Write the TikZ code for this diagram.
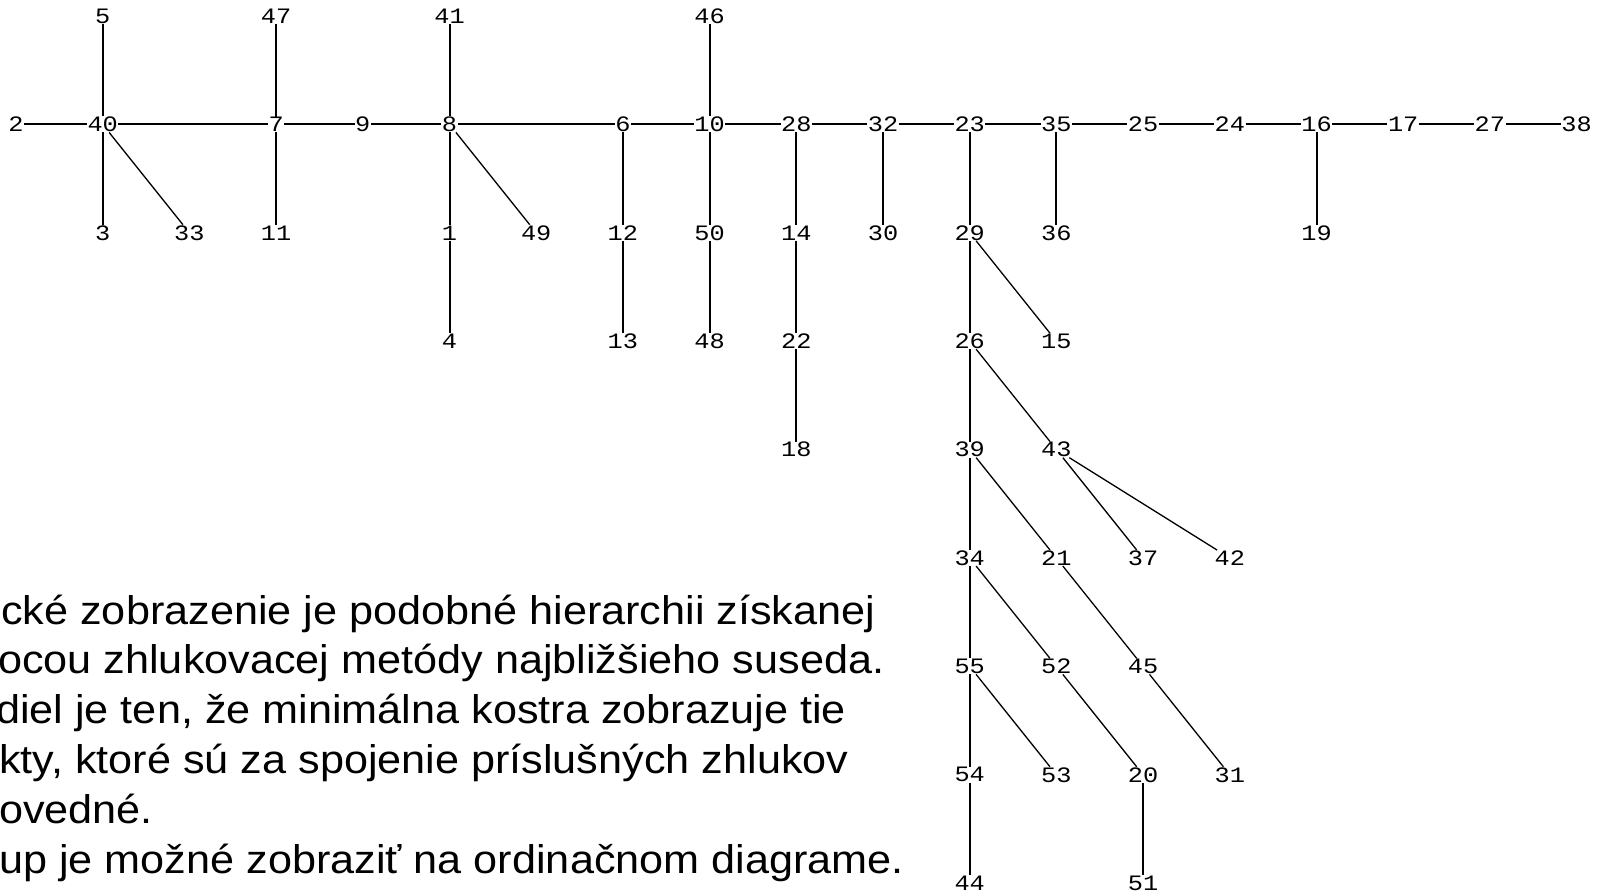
\documentclass[tikz,border=0pt]{standalone}
\usepackage{fontspec}
\setmainfont{Liberation Sans}[FakeStretch=1.08]
\newfontfamily\labelfont[FakeStretch=1.15]{Liberation Mono}

\begin{document}
\begin{tikzpicture}[x=86.7pt, y=-108.4pt,
    lbl/.style={font=\labelfont\fontsize{22}{22}\selectfont, inner sep=0.4pt},
    edge/.style={line width=2pt},
    diag/.style={line width=1.3pt},
    note/.style={font=\fontsize{40}{50}\selectfont, inner sep=0pt, anchor=base west}]
            \useasboundingbox (-0.18454,-0.1476) rectangle (18.2584,8.0904);
            % top row
            \node[lbl] (n5) at (1,0) {5};
            \node[lbl] (n47) at (3,0) {47};
            \node[lbl] (n41) at (5,0) {41};
            \node[lbl] (n46) at (8,0) {46};
            % main row
            \node[lbl] (n2) at (0,1) {2};
            \node[lbl] (n40) at (1,1) {40};
            \node[lbl] (n7) at (3,1) {7};
            \node[lbl] (n9) at (4,1) {9};
            \node[lbl] (n8) at (5,1) {8};
            \node[lbl] (n6) at (7,1) {6};
            \node[lbl] (n10) at (8,1) {10};
            \node[lbl] (n28) at (9,1) {28};
            \node[lbl] (n32) at (10,1) {32};
            \node[lbl] (n23) at (11,1) {23};
            \node[lbl] (n35) at (12,1) {35};
            \node[lbl] (n25) at (13,1) {25};
            \node[lbl] (n24) at (14,1) {24};
            \node[lbl] (n16) at (15,1) {16};
            \node[lbl] (n17) at (16,1) {17};
            \node[lbl] (n27) at (17,1) {27};
            \node[lbl] (n38) at (18,1) {38};
            % second row
            \node[lbl] (n3) at (1,2) {3};
            \node[lbl] (n33) at (2,2) {33};
            \node[lbl] (n11) at (3,2) {11};
            \node[lbl] (n1) at (5,2) {1};
            \node[lbl] (n49) at (6,2) {49};
            \node[lbl] (n12) at (7,2) {12};
            \node[lbl] (n50) at (8,2) {50};
            \node[lbl] (n14) at (9,2) {14};
            \node[lbl] (n30) at (10,2) {30};
            \node[lbl] (n29) at (11,2) {29};
            \node[lbl] (n36) at (12,2) {36};
            \node[lbl] (n19) at (15,2) {19};
            % lower rows
            \node[lbl] (n4) at (5,3) {4};
            \node[lbl] (n13) at (7,3) {13};
            \node[lbl] (n48) at (8,3) {48};
            \node[lbl] (n22) at (9,3) {22};
            \node[lbl] (n26) at (11,3) {26};
            \node[lbl] (n15) at (12,3) {15};
            \node[lbl] (n18) at (9,4) {18};
            \node[lbl] (n39) at (11,4) {39};
            \node[lbl] (n43) at (12,4) {43};
            \node[lbl] (n34) at (11,5) {34};
            \node[lbl] (n21) at (12,5) {21};
            \node[lbl] (n37) at (13,5) {37};
            \node[lbl] (n42) at (14,5) {42};
            \node[lbl] (n55) at (11,6) {55};
            \node[lbl] (n52) at (12,6) {52};
            \node[lbl] (n45) at (13,6) {45};
            \node[lbl] (n54) at (11,7) {54};
            \node[lbl] (n53) at (12,7) {53};
            \node[lbl] (n20) at (13,7) {20};
            \node[lbl] (n31) at (14,7) {31};
            \node[lbl] (n44) at (11,8) {44};
            \node[lbl] (n51) at (13,8) {51};
            % horizontal chain
            \draw[edge] (n2)--(n40)--(n7)--(n9)--(n8)--(n6)--(n10)--(n28)--(n32)--(n23);
            \draw[edge] (n23)--(n35)--(n25)--(n24)--(n16)--(n17)--(n27)--(n38);
            % vertical branches
            \draw[edge] (n5)--(n40)--(n3);
            \draw[edge] (n47)--(n7)--(n11);
            \draw[edge] (n41)--(n8)--(n1)--(n4);
            \draw[edge] (n6)--(n12)--(n13);
            \draw[edge] (n46)--(n10)--(n50)--(n48);
            \draw[edge] (n28)--(n14)--(n22)--(n18);
            \draw[edge] (n32)--(n30);
            \draw[edge] (n23)--(n29)--(n26)--(n39)--(n34)--(n55)--(n54)--(n44);
            \draw[edge] (n35)--(n36);
            \draw[edge] (n16)--(n19);
            \draw[edge] (n20)--(n51);
            % slanted branches
            \draw[diag] (n40)--(n33);
            \draw[diag] (n8)--(n49);
            \draw[diag] (n29)--(n15);
            \draw[diag] (n26)--(n43)--(n37);
            \draw[diag] (n43)--(n42);
            \draw[diag] (n39)--(n21)--(n45)--(n31);
            \draw[diag] (n34)--(n52)--(n20);
            \draw[diag] (n55)--(n53);
            % text
            \node[note] (line1) at (-0.173,5.609) {cké zobrazenie je podobné hierarchii získanej};
            \node[note] (line2) at (-0.208,6.068) {ocou zhlukovacej metódy najbližšieho suseda.};
            \node[note] (line3) at (-0.231,6.528) {diel je ten, že minimálna kostra zobrazuje tie};
            \node[note] (line4) at (-0.196,6.987) {kty, ktoré sú za spojenie príslušných zhlukov};
            \node[note] (line5) at (-0.196,7.446) {ovedné.};
            \node[note] (line6) at (-0.196,7.906) {up je možné zobraziť na ordinačnom diagrame.};
        \end{tikzpicture}
\end{document}
